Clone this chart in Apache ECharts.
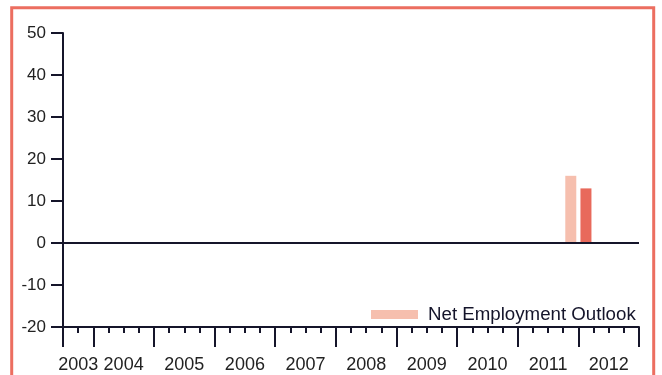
<!DOCTYPE html>
<html>
<head>
<meta charset="utf-8">
<script src="https://cdn.jsdelivr.net/npm/echarts@6/dist/echarts.min.js"></script>
<style>
html,body{margin:0;padding:0;background:#fff;}
#chart{width:662px;height:375px;}
</style>
</head>
<body>
<div id="chart"></div>
<script>
// ---- data ----
var years = ['2003','2004','2005','2006','2007','2008','2009','2010','2011','2012'];
var quartersPerYear = [2,4,4,4,4,4,4,4,4,4];
var categories = [
  '2003 Q3','2003 Q4',
  '2004 Q1','2004 Q2','2004 Q3','2004 Q4',
  '2005 Q1','2005 Q2','2005 Q3','2005 Q4',
  '2006 Q1','2006 Q2','2006 Q3','2006 Q4',
  '2007 Q1','2007 Q2','2007 Q3','2007 Q4',
  '2008 Q1','2008 Q2','2008 Q3','2008 Q4',
  '2009 Q1','2009 Q2','2009 Q3','2009 Q4',
  '2010 Q1','2010 Q2','2010 Q3','2010 Q4',
  '2011 Q1','2011 Q2','2011 Q3','2011 Q4',
  '2012 Q1','2012 Q2','2012 Q3','2012 Q4'
];
var netEmploymentOutlook = [
  null,null,
  null,null,null,null,
  null,null,null,null,
  null,null,null,null,
  null,null,null,null,
  null,null,null,null,
  null,null,null,null,
  null,null,null,null,
  null,null,null,16,
  13,null,null,null
];
var highlightedCategory = '2012 Q1';
var seriesName = 'Net Employment Outlook';
var yTicks = [-20,-10,0,10,20,30,40,50];

// ---- styles ----
var lightColor = '#f6bfae';
var darkColor = '#e8695b';
var axisColor = '#15152a';
var textColor = '#222222';
var fontFam = "'Liberation Sans', Arial, Helvetica, sans-serif";

// year label positions (in quarter units) and year-start indices
var yearLabelPos = {};
var yearStartIdx = {};
var acc = 0;
for (var i = 0; i < years.length; i++) {
  yearStartIdx[acc] = true;
  yearLabelPos[acc + quartersPerYear[i] / 2] = years[i];
  acc += quartersPerYear[i];
}

var barData = netEmploymentOutlook.map(function (v, i) {
  if (categories[i] === highlightedCategory && v != null) {
    return { value: v, itemStyle: { color: darkColor } };
  }
  return v;
});

var chart = echarts.init(document.getElementById('chart'), null, { renderer: 'canvas' });
chart.setOption({
  animation: false,
  textStyle: { fontFamily: fontFam },
  grid: { left: 63, right: 23, top: 33, bottom: 48, containLabel: false },
  graphic: [{
    type: 'rect',
    shape: { x: 11.7, y: 7.7, width: 642, height: 420 },
    style: { fill: 'none', stroke: '#ec6e60', lineWidth: 3 },
    silent: true,
    z: 100
  }],
  legend: {
    data: [seriesName],
    left: 366,
    top: 300,
    icon: 'rect',
    itemWidth: 47,
    itemHeight: 9,
    textStyle: { fontSize: 18.7, color: '#14142a', fontFamily: fontFam, padding: [0, 0, 0, 5] }
  },
  xAxis: [
    {
      type: 'category',
      data: categories,
      position: 'bottom',
      boundaryGap: true,
      axisLine: { show: true, onZero: false, lineStyle: { color: axisColor, width: 2 } },
      axisTick: { show: true, interval: 0, length: 6, lineStyle: { color: axisColor, width: 2 } },
      axisLabel: { show: false },
      splitLine: { show: false }
    },
    {
      type: 'category',
      data: categories,
      position: 'bottom',
      boundaryGap: true,
      axisLine: { show: false, onZero: false },
      axisTick: {
        show: true,
        interval: function (idx) { return !!yearStartIdx[idx]; },
        length: 20,
        lineStyle: { color: axisColor, width: 2 }
      },
      axisLabel: { show: false },
      splitLine: { show: false }
    },
    {
      type: 'value',
      position: 'bottom',
      min: 0,
      max: categories.length,
      interval: 1,
      axisLine: { show: false, onZero: false },
      axisTick: { show: false },
      splitLine: { show: false },
      axisLabel: {
        show: true,
        margin: 29,
        fontSize: 18,
        color: textColor,
        fontFamily: fontFam,
        formatter: function (v) { return yearLabelPos[v] || ''; }
      }
    }
  ],
  yAxis: {
    type: 'value',
    min: -20,
    max: 50,
    interval: 10,
    axisLine: { show: true, lineStyle: { color: axisColor, width: 2 } },
    axisTick: { show: true, length: 12, lineStyle: { color: axisColor, width: 2 } },
    splitLine: { show: false },
    axisLabel: {
      margin: 17,
      fontSize: 17,
      color: textColor,
      fontFamily: fontFam,
      formatter: function (v) { return yTicks.indexOf(v) >= 0 ? String(v) : ''; }
    }
  },
  series: [{
    name: seriesName,
    type: 'bar',
    xAxisIndex: 0,
    yAxisIndex: 0,
    data: barData,
    barWidth: 11,
    itemStyle: { color: lightColor },
    markLine: {
      silent: true,
      symbol: ['none', 'none'],
      label: { show: false },
      lineStyle: { color: axisColor, width: 2, type: 'solid' },
      data: [{ yAxis: 0 }]
    }
  }]
});
</script>
</body>
</html>
